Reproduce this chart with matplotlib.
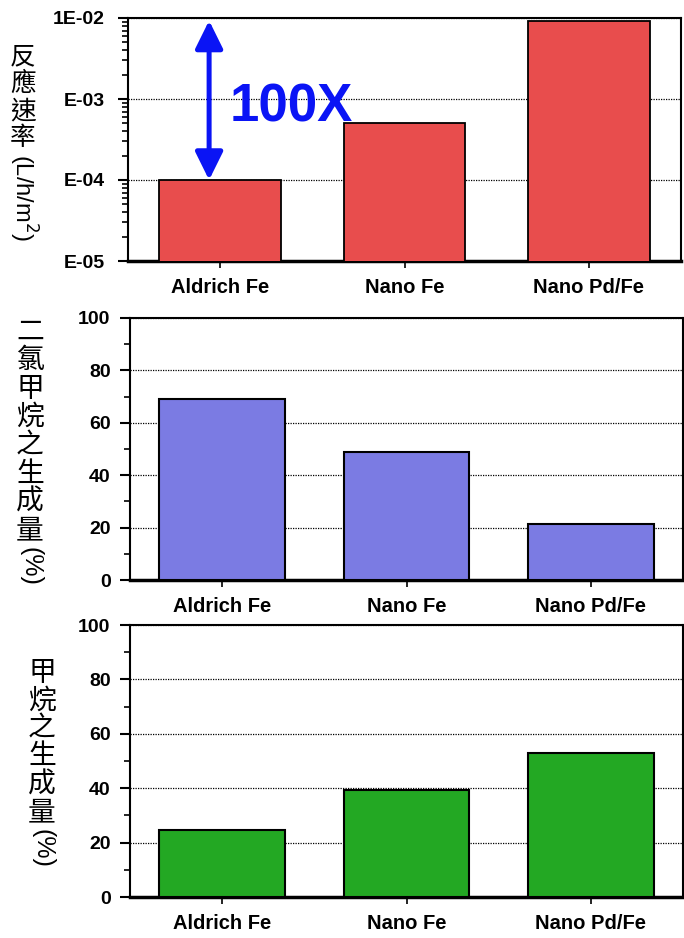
import numpy as np
from matplotlib import pyplot as plt
from matplotlib.ticker import FixedLocator, LogLocator, NullFormatter, MultipleLocator

categories = ['Aldrich Fe', 'Nano Fe', 'Nano Pd/Fe']
rate = [1.0e-4, 5.0e-4, 9.1e-3]          # L/h/m2
dcm_yield = [69, 49, 21.5]              # %
methane_yield = [24.5, 39.5, 53]        # %
rate_ticks = [1e-5, 1e-4, 1e-3, 1e-2]
rate_tick_labels = ['E-05', 'E-04', 'E-03', '1E-02']

cjk = ['Noto Sans CJK TC', 'DejaVu Sans']
plt.rcParams['font.family'] = ['Liberation Sans', 'DejaVu Sans']

fig = plt.figure(figsize=(6.84, 9.38), dpi=100)
W, H = 684, 938

def make_ax(left, top, right, bottom):
    return fig.add_axes([left / W, 1 - bottom / H, (right - left) / W, (bottom - top) / H])

def style(ax, ypad):
    for s in ax.spines.values():
        s.set_linewidth(1.5)
    ax.spines['bottom'].set_linewidth(2.5)
    ax.tick_params(axis='y', which='major', direction='out', length=7, width=1.5,
                   labelsize=14, pad=ypad)
    ax.tick_params(axis='y', which='minor', direction='out', length=4, width=1.2)
    ax.tick_params(axis='x', direction='out', length=5, width=1.2, labelsize=14.5, pad=7)
    ax.yaxis.grid(True, which='major', linestyle=(0, (1, 1)), color='black', linewidth=0.9)
    ax.set_axisbelow(True)
    for lab in ax.get_xticklabels() + ax.get_yticklabels():
        lab.set_fontweight('bold')

x = np.arange(len(categories))

# panel 1: reaction rate (log)
ax1 = make_ax(128, 18, 681, 261)
ax1.bar(x, rate, width=0.66, color='#E84D4D', edgecolor='black', linewidth=1.3, zorder=3)
ax1.set_yscale('log')
ax1.set_ylim(1e-5, 1e-2)
ax1.set_xlim(-0.5, 2.5)
ax1.yaxis.set_major_locator(FixedLocator(rate_ticks))
ax1.set_yticklabels(rate_tick_labels)
ax1.yaxis.set_minor_locator(LogLocator(base=10, subs=np.arange(2, 10)))
ax1.yaxis.set_minor_formatter(NullFormatter())
ax1.set_xticks(x)
ax1.set_xticklabels(categories)
style(ax1, 10)
ax1.annotate('', xy=(-0.06, rate[0]), xytext=(-0.06, 9.3e-3),
             arrowprops=dict(arrowstyle='<|-|>,head_length=0.85,head_width=0.42',
                             color='#0A14F5', lw=3.6, mutation_scale=20,
                             shrinkA=0, shrinkB=0), zorder=5)
ax1.text(0.05, 9.2e-4, '100X', color='#0A14F5', fontsize=38, fontweight='bold',
         va='center_baseline', ha='left', zorder=5)

# panel 2: dichloromethane yield
ax2 = make_ax(130, 318, 683, 580)
ax2.bar(x, dcm_yield, width=0.68, color='#7B7BE3', edgecolor='black', linewidth=1.5, zorder=3)
ax2.set_ylim(0, 100)
ax2.set_xlim(-0.5, 2.5)
ax2.yaxis.set_major_locator(MultipleLocator(20))
ax2.yaxis.set_minor_locator(MultipleLocator(10))
ax2.set_xticks(x)
ax2.set_xticklabels(categories)
style(ax2, 7)

# panel 3: methane yield
ax3 = make_ax(130, 625, 683, 897)
ax3.bar(x, methane_yield, width=0.68, color='#23A823', edgecolor='black', linewidth=1.5, zorder=3)
ax3.set_ylim(0, 100)
ax3.set_xlim(-0.5, 2.5)
ax3.yaxis.set_major_locator(MultipleLocator(20))
ax3.yaxis.set_minor_locator(MultipleLocator(10))
ax3.set_xticks(x)
ax3.set_xticklabels(categories)
style(ax3, 7)

# vertical CJK y labels: stacked characters, then rotated unit
def vlabel(xpx, ytop, chars, tail, step, size, tsize):
    for i, c in enumerate(chars):
        fig.text(xpx / W, 1 - (ytop + i * step) / H, c, family=cjk, fontsize=size,
                 ha='center', va='center')
    yt = ytop + (len(chars) - 0.5) * step + 3
    fig.text(xpx / W, 1 - yt / H, tail, fontsize=tsize, rotation=-90,
             ha='center', va='top')

vlabel(23, 57, '反應速率', '(L/h/m$^2$)', 27, 18.5, 17)
vlabel(30, 332, '二氯甲烷之生成量', '(%)', 28.3, 20, 18)
vlabel(42, 673, '甲烷之生成量', '(%)', 27.8, 20, 18)

fig.savefig('out.png', dpi=100)
